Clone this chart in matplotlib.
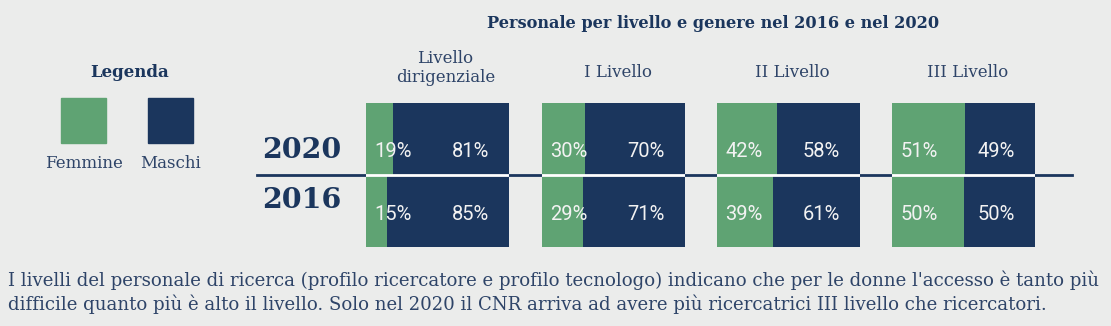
import matplotlib.pyplot as plt
from matplotlib.lines import Line2D
from matplotlib.patches import Rectangle

# dati
livelli = ['Livello\ndirigenziale', 'I Livello', 'II Livello', 'III Livello']
anni = ['2016', '2020']
femmine_2016 = [15, 29, 39, 50]
femmine_2020 = [19, 30, 42, 51]
maschi_2016 = [85, 71, 61, 50]
maschi_2020 = [81, 70, 58, 49]

titolo = 'Personale per livello e genere nel 2016 e nel 2020'
nota = ("I livelli del personale di ricerca (profilo ricercatore e profilo tecnologo) "
        "indicano che per le donne l'accesso è tanto più\n"
        "difficile quanto più è alto il livello. Solo nel 2020 il CNR arriva ad avere "
        "più ricercatrici III livello che ricercatori.")

VERDE = '#5FA373'
BLU = '#1B365D'
SFONDO = '#EBECEB'
TESTO = '#2E4468'

W, H = 1111, 326
fig = plt.figure(figsize=(W / 100, H / 100), dpi=100, facecolor=SFONDO)

def fx(px):
    return px / W

def fy(py):
    return 1 - py / H

serif = 'DejaVu Serif'

# titolo
fig.text(fx(713), fy(24), titolo, ha='center', va='center', fontsize=11.6,
         fontweight='bold', color=BLU, family=serif)

# legenda
fig.text(fx(130), fy(72), 'Legenda', ha='center', va='center', fontsize=12,
         fontweight='bold', color=BLU, family=serif)
for x0, col, lab in [(61, VERDE, 'Femmine'), (148, BLU, 'Maschi')]:
    fig.add_artist(Rectangle((fx(x0), fy(143)), fx(45), 45 / H, color=col,
                             transform=fig.transFigure))
    fig.text(fx(x0 + 22.5), fy(164), lab, ha='center', va='center', fontsize=12,
             color=TESTO, family=serif)

# anni
fig.text(fx(341), fy(151), anni[1], ha='right', va='center', fontsize=20.5,
         fontweight='bold', color=BLU, family=serif)
fig.text(fx(341), fy(200), anni[0], ha='right', va='center', fontsize=20.5,
         fontweight='bold', color=BLU, family=serif)

# linea di separazione
fig.add_artist(Line2D([fx(257), fx(1072)], [fy(175), fy(175)], color=BLU, lw=2,
                      transform=fig.transFigure, zorder=-1))

# box per livello
box_x = [366, 542, 717, 892]
box_w = 143
top, bottom = 103, 247
for i, liv in enumerate(livelli):
    ax = fig.add_axes([fx(box_x[i]), fy(bottom), box_w / W, (bottom - top) / H])
    ax.set_xlim(0, 100)
    ax.set_ylim(0, 2)
    ax.axis('off')
    f = [femmine_2016[i], femmine_2020[i]]
    m = [maschi_2016[i], maschi_2020[i]]
    ax.barh([0.5, 1.5], f, height=1, color=VERDE, linewidth=0)
    ax.barh([0.5, 1.5], m, left=f, height=1, color=BLU, linewidth=0)
    ax.axhline(1, color='white', lw=2)
    for y, fv, mv in [(0.45, f[0], m[0]), (1.32, f[1], m[1])]:
        ax.text(19, y, f'{fv}%', ha='center', va='center', fontsize=14.5,
                color='#F2F2F2', family='Roboto')
        ax.text(73, y, f'{mv}%', ha='center', va='center', fontsize=14.5,
                color='#F2F2F2', family='Roboto')
    cx = box_x[i] + box_w / 2
    if '\n' in liv:
        fig.text(fx(cx + 8), fy(68), liv, ha='center', va='center', fontsize=12,
                 color=TESTO, family=serif, linespacing=1.1)
    else:
        fig.text(fx(cx + 4), fy(72), liv, ha='center', va='center', fontsize=12,
                 color=TESTO, family=serif)

# nota
fig.text(fx(8), fy(292), nota, ha='left', va='center', fontsize=13.1,
         color=TESTO, family=serif, linespacing=1.3)

fig.savefig('out.png', dpi=100, facecolor=SFONDO)
